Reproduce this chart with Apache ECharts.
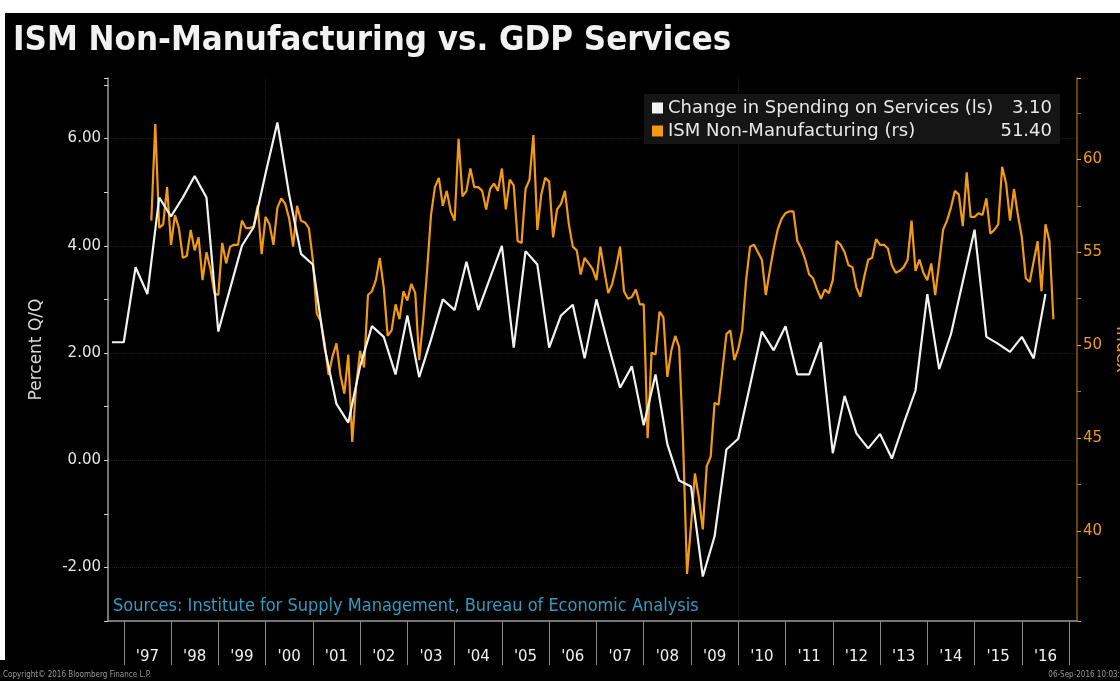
<!DOCTYPE html>
<html><head><meta charset="utf-8">
<script src="https://cdn.jsdelivr.net/npm/echarts@6/dist/echarts.min.js"></script>
<style>html,body{margin:0;padding:0;background:#000;}#chart{position:absolute;left:0;top:0;width:1120px;height:681px;background:#000;}</style>
</head><body><div id="chart"></div>
<script>
// ---------- DATA ----------
// Change in Spending on Services, % Q/Q (quarterly, Q3 1996 .. Q2 2016)
const gdpFirstQuarter = [1996, 3];
const gdpServices = [
  2.2, 2.2,
  3.6, 3.1, 4.9, 4.55,
  4.9, 5.3, 4.9, 2.4,
  3.2, 4.0, 4.35, 5.35,
  6.3, 4.95, 3.85, 3.65,
  2.1, 1.05, 0.7, 1.75,
  2.5, 2.3, 1.6, 2.7,
  1.55, 2.25, 3.0, 2.8,
  3.7, 2.8, 3.4, 4.0,
  2.1, 3.9, 3.65, 2.1,
  2.7, 2.9, 1.9, 3.0,
  2.15, 1.35, 1.75, 0.65,
  1.6, 0.3, -0.38, -0.49,
  -2.17, -1.42, 0.2, 0.4,
  1.4, 2.4, 2.05, 2.5,
  1.6, 1.6, 2.2, 0.13,
  1.2, 0.5, 0.22, 0.49,
  0.03, 0.68, 1.3, 3.1,
  1.7, 2.35, 3.33, 4.3,
  2.3, 2.17, 2.02, 2.3,
  1.9, 3.1
];
// ISM Non-Manufacturing index (monthly, Jul 1997 .. Aug 2016)
const ism1997 = [56.7, 61.9, 56.3, 56.5, 58.5, 55.4];
const ism1998 = [57.0, 56.3, 54.7, 54.8, 56.2, 55.1, 55.8, 53.5, 55.0, 54.1, 52.8, 52.7];
const ism1999 = [55.5, 54.4, 55.3, 55.4, 55.4, 56.7, 56.3, 56.3, 56.4, 57.5, 54.9, 56.9];
const ism2000 = [56.5, 55.4, 57.4, 57.9, 57.6, 56.8, 55.3, 57.5, 56.7, 56.6, 56.3, 54.6];
const ism2001 = [51.7, 51.3, 50.1, 48.4, 49.4, 50.1, 48.4, 47.4, 49.5, 44.8, 47.8, 49.7];
const ism2002 = [48.8, 52.7, 52.9, 53.5, 54.7, 53.1, 50.5, 50.8, 52.2, 51.4, 52.9, 52.4];
const ism2003 = [53.3, 52.8, 49.2, 51.3, 54.0, 57.0, 58.5, 59.0, 57.5, 58.3, 57.2, 56.7];
const ism2004 = [61.1, 58.0, 58.3, 59.5, 58.5, 58.5, 58.3, 57.3, 58.4, 58.7, 58.3, 59.5];
const ism2005 = [57.3, 58.9, 58.6, 55.6, 55.5, 58.4, 58.9, 61.3, 56.2, 58.1, 59.0, 58.8];
const ism2006 = [55.8, 57.3, 57.6, 58.3, 56.5, 55.3, 55.1, 53.8, 54.7, 54.4, 54.1, 53.5];
const ism2007 = [55.3, 54.0, 52.8, 53.3, 54.2, 55.3, 52.9, 52.5, 52.6, 53.0, 52.2, 52.2];
const ism2008 = [45.0, 49.6, 49.5, 51.8, 51.5, 48.3, 49.7, 50.5, 49.9, 44.8, 37.7, 40.3];
const ism2009 = [43.1, 41.8, 40.1, 43.5, 44.0, 46.9, 46.8, 48.7, 50.6, 50.8, 49.2, 49.8];
const ism2010 = [50.8, 53.5, 55.3, 55.4, 55.0, 54.6, 52.7, 54.0, 55.2, 56.2, 56.8, 57.1];
const ism2011 = [57.2, 57.2, 55.6, 55.2, 54.6, 53.8, 53.6, 53.0, 52.5, 53.0, 52.8, 53.5];
const ism2012 = [55.6, 55.4, 55.0, 54.3, 54.2, 53.1, 52.6, 53.7, 54.6, 54.7, 55.7, 55.4];
const ism2013 = [55.4, 55.2, 54.3, 53.9, 54.0, 54.2, 54.6, 56.7, 54.0, 54.6, 53.9, 53.5];
const ism2014 = [54.4, 52.7, 54.4, 56.2, 56.7, 57.4, 58.3, 58.1, 56.4, 59.3, 56.9, 56.9];
const ism2015 = [57.1, 57.0, 57.9, 56.0, 56.2, 56.5, 59.6, 58.7, 56.7, 58.4, 57.0, 55.8];
const ism2016 = [53.6, 53.4, 54.5, 55.6, 52.9, 56.5, 55.6, 51.4];
const ismFirstMonth = [1997, 7];
// Axis labels
const yearLabels = ["'97","'98","'99","'00","'01","'02","'03","'04","'05","'06","'07","'08","'09","'10","'11","'12","'13","'14","'15","'16"];
const firstYear = 1997;
const seriesNames = ['Change in Spending on Services (ls)', 'ISM Non-Manufacturing (rs)'];

// ---------- BUILD ----------
const ismValues = [].concat(ism1997, ism1998, ism1999, ism2000, ism2001, ism2002, ism2003, ism2004,
  ism2005, ism2006, ism2007, ism2008, ism2009, ism2010, ism2011, ism2012, ism2013, ism2014, ism2015, ism2016);

// month-start categories Sep 1996 .. Mar 2017 (points sit on period ends)
const cats = [];
for (let y = 1996, m = 9; y < 2017 || (y === 2017 && m <= 3); ) {
  cats.push(y + '-' + String(m).padStart(2, '0'));
  m++; if (m > 12) { m = 1; y++; }
}
const idxOf = (y, m) => cats.indexOf(y + '-' + String(m).padStart(2, '0'));
function nextMonth(y, m) { m++; if (m > 12) { m = 1; y++; } return [y, m]; }

const gdpData = cats.map(() => null);
gdpServices.forEach((v, q) => {
  let y = gdpFirstQuarter[0], qq = gdpFirstQuarter[1] + q;
  y += Math.floor((qq - 1) / 4); qq = ((qq - 1) % 4) + 1;
  const [ny, nm] = nextMonth(y, qq * 3);
  gdpData[idxOf(ny, nm)] = v;
});
const ismData = cats.map(() => null);
ismValues.forEach((v, j) => {
  let y = ismFirstMonth[0], m = ismFirstMonth[1] + j;
  y += Math.floor((m - 1) / 12); m = ((m - 1) % 12) + 1;
  const [ny, nm] = nextMonth(y, m);
  ismData[idxOf(ny, nm)] = v;
});
const lastGdp = gdpServices[gdpServices.length - 1].toFixed(2);
const lastIsm = ismValues[ismValues.length - 1].toFixed(2);

const FONT = 'DejaVu Sans';
const COND = 'DejaVu Sans Condensed';
const ORANGE = '#f29a12';
const chart = echarts.init(document.getElementById('chart'), null, { renderer: 'canvas' });
chart.setOption({
  backgroundColor: '#000',
  animation: false,
  title: [{
    text: 'ISM Non-Manufacturing vs. GDP Services',
    left: 8, top: 19,
    textStyle: { color: '#f2f2f2', fontSize: 34.5, fontWeight: 'bold', fontFamily: COND }
  }],
  legend: {
    left: 644, top: 94, orient: 'vertical', itemGap: 5,
    backgroundColor: '#151515', padding: [5, 8, 4, 8],
    icon: 'rect', itemWidth: 11, itemHeight: 11,
    data: seriesNames,
    formatter: name => '{n|' + name + '}{v|' + (name === seriesNames[0] ? lastGdp : lastIsm) + '}',
    textStyle: {
      color: '#e8e8e8', fontFamily: FONT, fontSize: 18,
      rich: {
        n: { width: 331, fontSize: 18, color: '#e8e8e8', fontFamily: FONT },
        v: { width: 53, align: 'right', fontSize: 18, color: '#e8e8e8', fontFamily: FONT }
      }
    }
  },
  grid: { left: 108, right: 43, top: 78, bottom: 60, containLabel: false, outerBoundsMode: 'none' },
  xAxis: {
    type: 'category', data: cats, boundaryGap: false,
    axisLine: { onZero: false, lineStyle: { color: '#9a9a9a', width: 1.5 } },
    axisTick: { interval: (i, v) => v.endsWith('-01'), length: 44, lineStyle: { color: '#8a8a8a' } },
    axisLabel: {
      interval: (i, v) => v.endsWith('-07'),
      formatter: v => yearLabels[parseInt(v.slice(0, 4), 10) - firstYear] || '',
      color: '#f0f0f0', fontSize: 15, fontFamily: FONT, margin: 29
    },
    splitLine: { show: true, interval: (i, v) => v === '2000-01' || v === '2010-01', lineStyle: { color: '#1f1f1f', type: 'dotted' } }
  },
  yAxis: [
    {
      type: 'value', position: 'left', min: -3, max: 7.13, interval: 1,
      name: 'Percent Q/Q', nameLocation: 'middle', nameGap: 63,
      nameTextStyle: { color: '#d8d8d8', fontSize: 17, fontFamily: FONT },
      axisLine: { show: true, onZero: false, lineStyle: { color: '#9a9a9a', width: 1.5 } },
      axisTick: { show: true, length: 4, lineStyle: { color: '#cfcfcf' } },
      axisLabel: {
        margin: 7, color: '#e6e6e6', fontSize: 15, fontFamily: FONT,
        formatter: v => (Math.abs(v) % 2 === 0 && v >= -2 && v <= 6) ? v.toFixed(2) : ''
      },
      splitLine: { show: false }
    },
    {
      type: 'value', position: 'right', min: 35.17, max: 64.37, splitNumber: 6,
      name: 'Index', nameLocation: 'middle', nameGap: 27, nameRotate: -90,
      nameTextStyle: { color: ORANGE, fontSize: 17, fontFamily: FONT },
      axisLine: { show: true, onZero: false, lineStyle: { color: '#8a5c12', width: 1.5 } },
      axisTick: { show: true, length: 4, lineStyle: { color: ORANGE } },
      minorTick: { show: true, splitNumber: 2, length: 4, lineStyle: { color: '#b07515' } },
      axisLabel: {
        margin: 6, color: ORANGE, fontSize: 15, fontFamily: FONT,
        showMinLabel: false, showMaxLabel: false,
        formatter: v => (v % 5 === 0) ? String(v) : ''
      },
      splitLine: { show: false }
    },
    {
      type: 'value', position: 'left', min: -3, max: 7.13, splitNumber: 5,
      axisLine: { show: false }, axisTick: { show: false }, axisLabel: { show: false },
      splitLine: { show: true, showMinLine: false, showMaxLine: false, lineStyle: { color: '#202020', type: 'dotted' } }
    }
  ],
  graphic: [
    { type: 'rect', left: 0, top: 0, shape: { width: 1120, height: 13 }, style: { fill: '#ffffff' }, z: 100 },
    { type: 'rect', left: 0, top: 0, shape: { width: 5, height: 660 }, style: { fill: '#ffffff' }, z: 100 },
    { type: 'text', left: 113, top: 597, style: { text: 'Sources: Institute for Supply Management, Bureau of Economic Analysis', fill: '#2f9cc0', fontSize: 18, fontFamily: COND } },
    { type: 'text', left: 3, top: 671, style: { text: 'Copyright\u00a9 2016 Bloomberg Finance L.P.', fill: '#9a9a9a', fontSize: 8, fontFamily: COND } },
    { type: 'text', right: 0, top: 671, style: { text: '06-Sep-2016 10:03:', fill: '#9a9a9a', fontSize: 8, fontFamily: COND } }
  ],
  series: [
    {
      name: seriesNames[0], type: 'line', yAxisIndex: 0, data: gdpData, connectNulls: true,
      showSymbol: false, symbol: 'none', color: '#f2f2f2', lineStyle: { color: '#f2f2f2', width: 2.2 }, z: 3
    },
    {
      name: seriesNames[1], type: 'line', yAxisIndex: 1, data: ismData, connectNulls: true,
      showSymbol: false, symbol: 'none', color: ORANGE, lineStyle: { color: ORANGE, width: 2.2 }, z: 2
    }
  ]
});
</script></body></html>
